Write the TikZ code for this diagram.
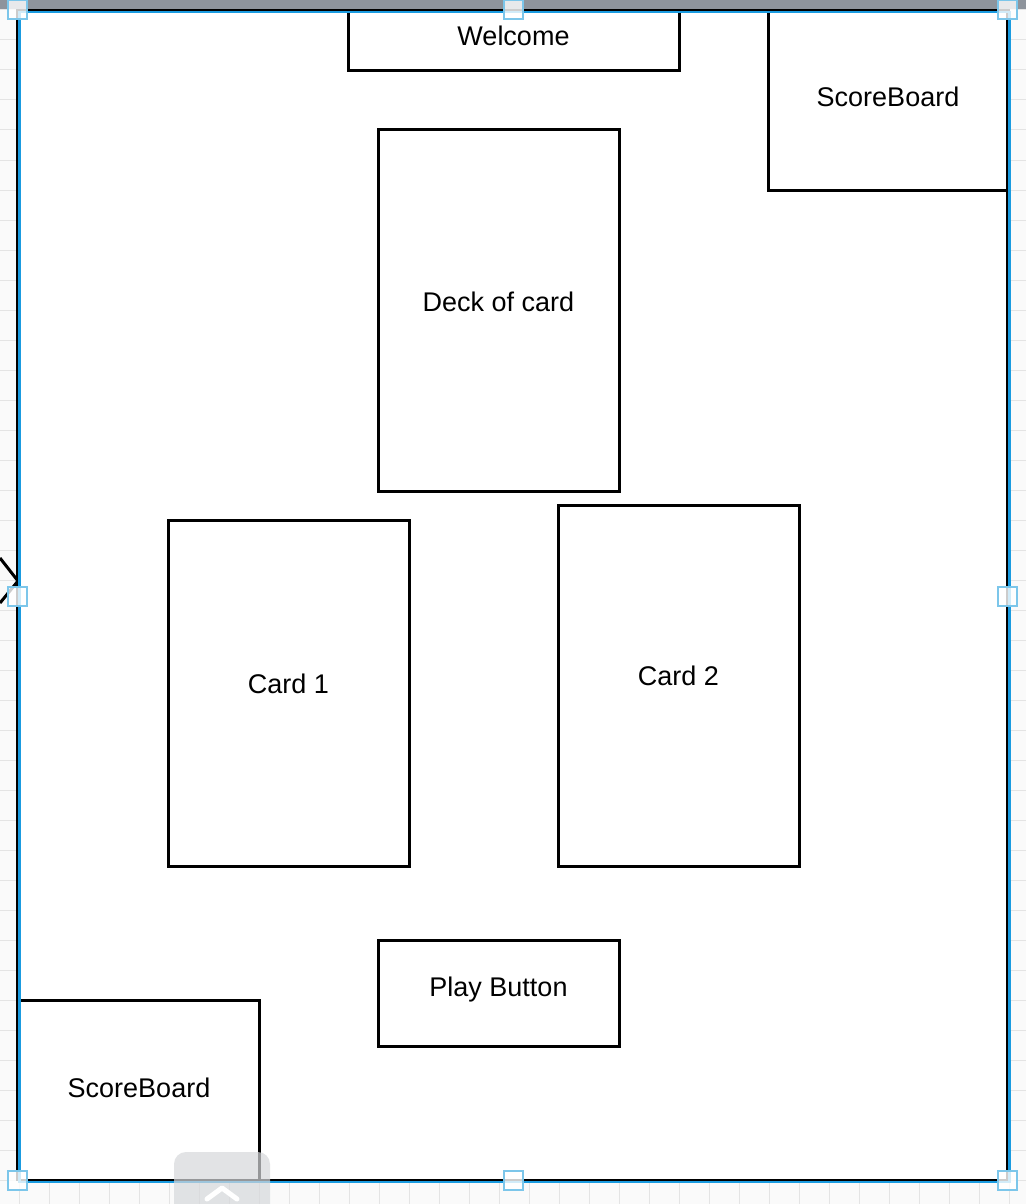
\documentclass[tikz,border=0pt]{standalone}
\usepackage{fontspec}
\setmainfont{Liberation Sans}
\definecolor{gridc}{HTML}{E4E4E4}
\definecolor{selblue}{HTML}{1A9BE0}
\definecolor{handleb}{HTML}{7CC6EA}
\definecolor{topgray}{HTML}{8E949C}
\definecolor{btngray}{HTML}{D6D8DB}
\tikzset{
  box/.style={draw=black, line width=3pt, fill=white, inner sep=0pt},
  lbl/.style={font=\fontsize{27}{32}\selectfont},
  handle/.style={draw=handleb, line width=2pt, fill=white, fill opacity=0.8,
    minimum width=19pt, minimum height=19pt, inner sep=0pt},
}
\begin{document}
\begin{tikzpicture}[x=1pt,y=-1pt]
\useasboundingbox (0,0) rectangle (1026,1204);
% canvas with grid
\fill[white!98!black] (0,0) rectangle (1026,1204);
\begin{scope}
\clip (0,0) rectangle (1026,1204);
\foreach \gx in {-11,19,...,1039} \draw[gridc, line width=1pt] (\gx,0) -- (\gx,1204);
\foreach \gy in {10,40,...,1210} \draw[gridc, line width=1pt] (0,\gy) -- (1026,\gy);
\end{scope}
% top gray strip
\fill[topgray] (0,0) rectangle (1026,9);
% frame interior
\fill[white] (18,11) rectangle (1008,1181);
% partial arrow on left edge
\draw[black, line width=3pt] (0,558) -- (18,581) -- (0,603);
% boxes
\node[box, minimum width=331pt, minimum height=60pt] (welcome) at (513.5,41) {};
\node[lbl] (welcomet) at (513.5,36) {Welcome};
\node[box, minimum width=240pt, minimum height=179pt] (score1) at (888,100.5) {};
\node[lbl] (score1t) at (888,97) {ScoreBoard};
\node[box, minimum width=241pt, minimum height=361pt] (deck) at (498.5,310.5) {};
\node[lbl] (deckt) at (498.5,302) {Deck of card};
\node[box, minimum width=241pt, minimum height=346pt] (card1) at (288.5,693) {};
\node[lbl] (card1t) at (288.5,684) {Card 1};
\node[box, minimum width=241pt, minimum height=361pt] (card2) at (678.5,685.5) {};
\node[lbl] (card2t) at (678.5,676) {Card 2};
\node[box, minimum width=241pt, minimum height=106pt] (play) at (498.5,993) {};
\node[lbl] (playt) at (498.5,989.5) {Play Button};
\node[box, minimum width=240pt, minimum height=181pt] (score2) at (139,1090.5) {};
\node[lbl] (score2t) at (139,1088) {ScoreBoard};
% frame
\draw[black, line width=2.5pt] (17.5,10) rectangle (1007.5,1180);
\draw[selblue, line width=2.5pt] (19.5,12) rectangle (1009.5,1182);
% bottom gray button
\fill[btngray, opacity=0.7, rounded corners=12pt] (174,1152) rectangle (270,1220);
\draw[white, line width=5pt, line cap=round, line join=round] (207,1199) -- (222,1188) -- (237,1199);
% handles
\foreach \hx/\hy/\hn in {17/10/h1, 513/10/h2, 1007/10/h3, 17/596/h4, 1007/596/h5, 17/1180/h6, 513/1180/h7, 1007/1180/h8}
  \node[handle] (\hn) at (\hx,\hy) {};
\end{tikzpicture}
\end{document}
